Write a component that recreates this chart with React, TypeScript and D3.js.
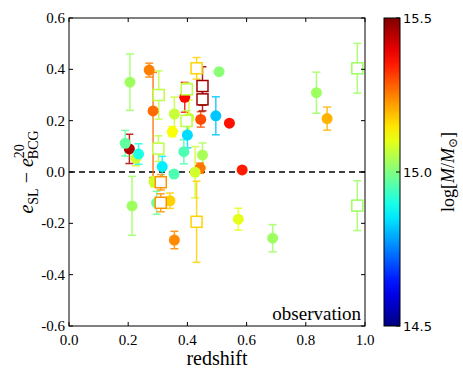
import React from 'react';
import * as d3 from 'd3';

// circles: cluster measurements
const circZ = [0.206, 0.271, 0.284, 0.204, 0.19, 0.226, 0.213, 0.235, 0.315, 0.355, 0.356, 0.349, 0.391, 0.40, 0.388, 0.405, 0.445, 0.451, 0.443, 0.426, 0.496, 0.507, 0.542, 0.585, 0.836, 0.872, 0.572, 0.688, 0.296, 0.341, 0.287, 0.356];
const circE = [0.35, 0.397, 0.238, 0.09, 0.112, 0.054, -0.132, 0.07, 0.021, -0.008, 0.226, 0.157, 0.291, 0.144, 0.079, 0.21, 0.205, 0.066, 0.015, -0.001, 0.219, 0.391, 0.19, 0.008, 0.309, 0.208, -0.184, -0.258, -0.12, -0.112, -0.038, -0.265];
const circErrLo = [0.11, 0.027, 0.26, 0.057, 0.05, 0.03, 0.115, 0.04, 0.04, 0.0, 0.066, 0.02, 0.058, 0.05, 0.047, 0.07, 0.03, 0.047, 0.02, 0.1, 0.074, 0.0, 0.0, 0.0, 0.08, 0.045, 0.043, 0.053, 0.045, 0.03, 0.02, 0.034];
const circErrHi = [0.11, 0.027, 0.15, 0.057, 0.05, 0.03, 0.115, 0.04, 0.04, 0.0, 0.066, 0.02, 0.058, 0.05, 0.047, 0.07, 0.03, 0.047, 0.02, 0.1, 0.074, 0.0, 0.0, 0.0, 0.08, 0.045, 0.043, 0.053, 0.045, 0.03, 0.02, 0.034];
const circMass = [15.03, 15.25, 15.27, 15.45, 14.97, 15.08, 15.03, 14.9, 14.86, 14.95, 15.07, 15.12, 15.37, 14.84, 14.95, 15.08, 15.3, 15.04, 15.26, 15.08, 14.82, 15.01, 15.36, 15.35, 15.03, 15.2, 15.1, 15.03, 14.98, 15.17, 15.08, 15.24];

// squares
const sqZ = [0.303, 0.302, 0.398, 0.397, 0.431, 0.451, 0.451, 0.31, 0.31, 0.431, 0.974, 0.974];
const sqE = [0.30, 0.091, 0.322, 0.199, 0.404, 0.335, 0.283, -0.04, -0.12, -0.194, 0.404, -0.131];
const sqErr = [0.094, 0.05, 0.025, 0.04, 0.042, 0.075, 0.045, 0.03, 0.035, 0.158, 0.097, 0.097];
const sqMass = [15.06, 15.06, 15.06, 15.06, 15.17, 15.47, 15.47, 15.23, 15.23, 15.17, 15.03, 15.03];

const xTicks = [0, 0.2, 0.4, 0.6, 0.8, 1.0];
const yTicks = [-0.6, -0.4, -0.2, 0, 0.2, 0.4, 0.6];
const cTicks = [14.5, 15.0, 15.5];

// matplotlib "jet"
function jet(t: number) {
  const c = (v: number) => Math.round(255 * Math.max(0, Math.min(1, v)));
  const r = c(1.5 - Math.abs(4 * t - 3));
  const g = c(1.5 - Math.abs(4 * t - 2));
  const b = c(1.5 - Math.abs(4 * t - 1));
  return `rgb(${r},${g},${b})`;
}

const L = 69, R = 365, T = 18, B = 326;

export default function App() {
  const x = d3.scaleLinear().domain([0, 1]).range([L, R]);
  const y = d3.scaleLinear().domain([-0.6, 0.6]).range([B, T]);
  const color = d3.scaleSequential(jet).domain([14.5, 15.5]);
  const cb = d3.scaleLinear().domain([14.5, 15.5]).range([B, T]);
  const cbX = 384, cbW = 16;
  const cap = 4;
  const serif = "'Liberation Serif', 'DejaVu Serif', serif";
  const sans = "'DejaVu Sans', sans-serif";

  const stops = d3.range(0, 1.0001, 0.05);

  const errBar = (cx: number, ey: number, lo: number, hi: number, col: string, key: string) => {
    if (lo === 0 && hi === 0) return null;
    const y0 = y(ey - lo), y1 = y(ey + hi);
    return (
      <g key={key} stroke={col} strokeWidth={1.5} opacity={0.85}>
        <line x1={cx} x2={cx} y1={y0} y2={y1} />
        <line x1={cx - cap} x2={cx + cap} y1={y0} y2={y0} />
        <line x1={cx - cap} x2={cx + cap} y1={y1} y2={y1} />
      </g>
    );
  };

  return (
    <svg width={463} height={371} style={{ position: 'absolute', left: 0, top: 0, background: '#fff' }}>
      <defs>
        <linearGradient id="jetgrad" x1="0" y1="1" x2="0" y2="0">
          {stops.map((s) => (
            <stop key={s} offset={`${s * 100}%`} stopColor={jet(s)} />
          ))}
        </linearGradient>
        <clipPath id="plotclip">
          <rect x={L} y={T} width={R - L} height={B - T} />
        </clipPath>
      </defs>

      <g clipPath="url(#plotclip)">
        <line x1={L} x2={R} y1={y(0)} y2={y(0)} stroke="#000" strokeWidth={1.5} strokeDasharray="6,4" />
        {circZ.map((z, i) => errBar(x(z), circE[i], circErrLo[i], circErrHi[i], color(circMass[i]), 'ce' + i))}
        {sqZ.map((z, i) => errBar(x(z), sqE[i], sqErr[i], sqErr[i], color(sqMass[i]), 'se' + i))}
        {circZ.map((z, i) => (
          <circle key={'c' + i} cx={x(z)} cy={y(circE[i])} r={5.5} fill={color(circMass[i])} />
        ))}
        {sqZ.map((z, i) => (
          <rect key={'s' + i} x={x(z) - 5.5} y={y(sqE[i]) - 5.5} width={11} height={11}
            fill="#fff" stroke={color(sqMass[i])} strokeWidth={1.5} />
        ))}
      </g>

      {/* frame and ticks */}
      <rect x={L} y={T} width={R - L} height={B - T} fill="none" stroke="#000" strokeWidth={1} />
      {xTicks.map((t) => (
        <g key={'xt' + t}>
          <line x1={x(t)} x2={x(t)} y1={B} y2={B - 4} stroke="#000" />
          <line x1={x(t)} x2={x(t)} y1={T} y2={T + 4} stroke="#000" />
          <text x={x(t)} y={B + 19} textAnchor="middle" fontFamily={serif} fontSize={15}>{t.toFixed(1)}</text>
        </g>
      ))}
      {yTicks.map((t) => (
        <g key={'yt' + t}>
          <line x1={L} x2={L + 4} y1={y(t)} y2={y(t)} stroke="#000" />
          <line x1={R} x2={R - 4} y1={y(t)} y2={y(t)} stroke="#000" />
          <text x={L - 4} y={y(t) + 5} textAnchor="end" fontFamily={serif} fontSize={15}>{t.toFixed(1)}</text>
        </g>
      ))}

      <text x={(L + R) / 2} y={365} textAnchor="middle" fontFamily={serif} fontSize={20}>redshift</text>
      <text x={R - 4} y={B - 6} textAnchor="end" fontFamily={serif} fontSize={19}>observation</text>

      <text transform={`translate(33,${(T + B) / 2}) rotate(-90)`} textAnchor="middle" fontFamily={serif} fontSize={20}>
        <tspan fontStyle="italic">e</tspan>
        <tspan fontSize={14} dy={5}>SL</tspan>
        <tspan dy={-5}> − </tspan>
        <tspan fontStyle="italic">e</tspan>
        <tspan fontSize={14} dy={-9}>20</tspan>
        <tspan fontSize={14} dx={-15} dy={14}>BCG</tspan>
      </text>

      {/* colorbar */}
      <rect x={cbX} y={T} width={cbW} height={B - T} fill="url(#jetgrad)" stroke="#000" strokeWidth={1} />
      {cTicks.map((t) => (
        <g key={'ct' + t}>
          <line x1={cbX + cbW} x2={cbX + cbW - 4} y1={cb(t)} y2={cb(t)} stroke="#000" />
          <text x={cbX + cbW + 3} y={cb(t) + 5} fontFamily={sans} fontSize={13}>{t.toFixed(1)}</text>
        </g>
      ))}
      <text transform={`translate(454,${(T + B) / 2}) rotate(-90)`} textAnchor="middle" fontFamily={serif} fontSize={18}>
        <tspan>log[</tspan>
        <tspan fontStyle="italic">M</tspan>
        <tspan>/</tspan>
        <tspan fontStyle="italic">M</tspan>
        <tspan fontSize={12} dy={3}>⊙</tspan>
        <tspan dy={-3}>]</tspan>
      </text>
    </svg>
  );
}
